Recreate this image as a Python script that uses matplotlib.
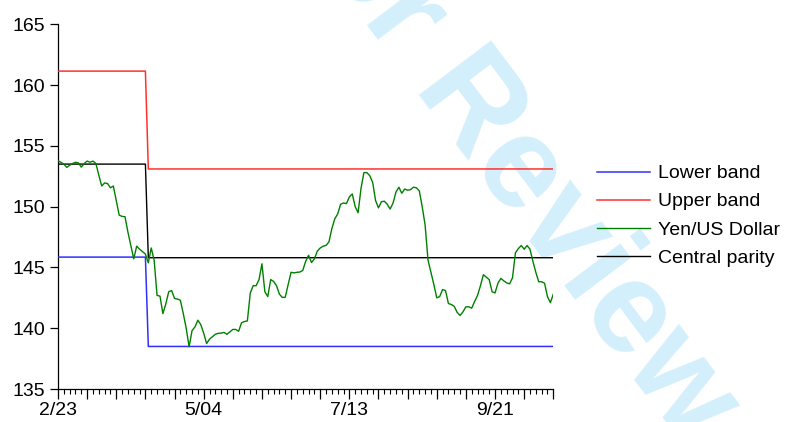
"""
Yen / US Dollar rate against the central parity and the +/-5% band,
business-day observations from 2/23 onwards.
"""

import matplotlib
matplotlib.use("Agg")
import matplotlib.pyplot as plt
import numpy as np

# ============================================================
# Data
# ============================================================

tick_labels = ["2/23", "5/04", "7/13", "9/21"]
tick_positions = [0, 50, 100, 150]

# central parity before / after the realignment, and where it happens
parity_levels = [153.5, 145.8]
lower_levels = [145.85, 138.5]
upper_levels = [161.15, 153.1]
realign_obs = 31

yen_usd = [
    153.77, 153.65, 153.50, 153.23, 153.40, 153.55, 153.65, 153.60, 153.25, 153.55,
    153.75, 153.65, 153.75, 153.55, 152.60, 151.70, 151.95, 151.90, 151.55, 151.70,
    150.50, 149.30, 149.20, 149.17, 147.90, 146.80, 145.70, 146.75, 146.50, 146.30,
    146.10, 145.38, 146.60, 145.60, 142.70, 142.64, 141.20, 142.00, 143.00, 143.10,
    142.45, 142.40, 142.30, 141.20, 140.00, 138.47, 139.80, 140.10, 140.66, 140.30,
    139.60, 138.74, 139.10, 139.30, 139.50, 139.58, 139.60, 139.65, 139.50, 139.70,
    139.90, 139.90, 139.75, 140.45, 140.55, 140.60, 142.90, 143.50, 143.50, 144.00,
    145.30, 143.00, 142.60, 144.00, 143.85, 143.50, 142.80, 142.53, 142.55, 143.60,
    144.60, 144.55, 144.60, 144.62, 144.75, 145.50, 146.00, 145.40, 145.70, 146.34,
    146.60, 146.75, 146.81, 147.10, 148.20, 149.00, 149.40, 150.20, 150.30, 150.25,
    150.80, 151.05, 150.00, 149.50, 151.50, 152.80, 152.80, 152.55, 152.00, 150.50,
    149.90, 150.40, 150.45, 150.20, 149.80, 150.30, 151.20, 151.60, 151.10, 151.45,
    151.35, 151.40, 151.60, 151.55, 151.30, 150.00, 148.50, 145.60, 144.60, 143.60,
    142.50, 142.60, 143.18, 143.10, 142.03, 141.95, 141.80, 141.30, 141.05, 141.35,
    141.76, 141.76, 141.65, 142.20, 142.70, 143.50, 144.40, 144.20, 144.00, 143.00,
    142.90, 143.70, 144.10, 143.90, 143.73, 143.65, 144.15, 146.20, 146.55, 146.80,
    146.50, 146.80, 146.50, 145.50, 144.60, 143.82, 143.82, 143.70, 142.60, 142.10,
    142.80,
]

n_obs = len(yen_usd)
n_after = n_obs - realign_obs

central = [parity_levels[0]] * realign_obs + [parity_levels[1]] * n_after
lower = [lower_levels[0]] * realign_obs + [lower_levels[1]] * n_after
upper = [upper_levels[0]] * realign_obs + [upper_levels[1]] * n_after

# ============================================================
# Figure
# ============================================================

plt.rcParams["font.family"] = ["Liberation Sans", "DejaVu Sans"]

W, H = 785, 422
fig = plt.figure(figsize=(W / 100, H / 100), dpi=100)

left, right = 58, 553.3
top, bottom = 24.3, 389
ax = fig.add_axes([left / W, 1 - bottom / H, (right - left) / W, (bottom - top) / H])
ax.patch.set_visible(False)

x = np.arange(n_obs)
ax.plot(x, lower, color="#3030ff", lw=1.1, label="Lower band", zorder=3)
ax.plot(x, upper, color="#ff3030", lw=1.1, label="Upper band", zorder=3)
ax.plot(x, yen_usd, color="#008000", lw=1.0, label="Yen/US Dollar", zorder=4)
ax.plot(x, central, color="black", lw=1.0, label="Central parity", zorder=3)

ax.set_xlim(0, n_obs - 1)
ax.set_ylim(135, 165)

# axes: left + bottom only
for side in ("top", "right"):
    ax.spines[side].set_visible(False)
for side in ("left", "bottom"):
    ax.spines[side].set_linewidth(0.9)

ax.set_yticks([135, 140, 145, 150, 155, 160, 165])
ax.tick_params(axis="y", direction="out", length=6, width=0.9, pad=3, labelsize=14)

major = list(range(0, n_obs, 10))
ax.set_xticks(major)
ax.set_xticklabels([tick_labels[tick_positions.index(m)] if m in tick_positions else "" for m in major])
ax.set_xticks(list(range(0, n_obs, 2)), minor=True)
ax.tick_params(axis="x", which="major", direction="out", length=7.5, width=0.9, pad=2, labelsize=14)
ax.tick_params(axis="x", which="minor", direction="out", length=3.5, width=0.8)

# legend to the right, no frame
fig.legend(
    loc="center left",
    bbox_to_anchor=(597 / W, 1 - 215.7 / H),
    frameon=False,
    fontsize=14,
    handlelength=2.7,
    handletextpad=0.45,
    labelspacing=0.54,
    borderpad=0,
    borderaxespad=0,
)

# watermark
fig.text(
    502 / W, 1 - 148 / H, "For Review",
    fontsize=94, fontweight="bold", color="#d4effc",
    rotation=-53, rotation_mode="anchor", ha="center", va="center",
    zorder=-1,
)

fig.savefig("out.png", dpi=100)
